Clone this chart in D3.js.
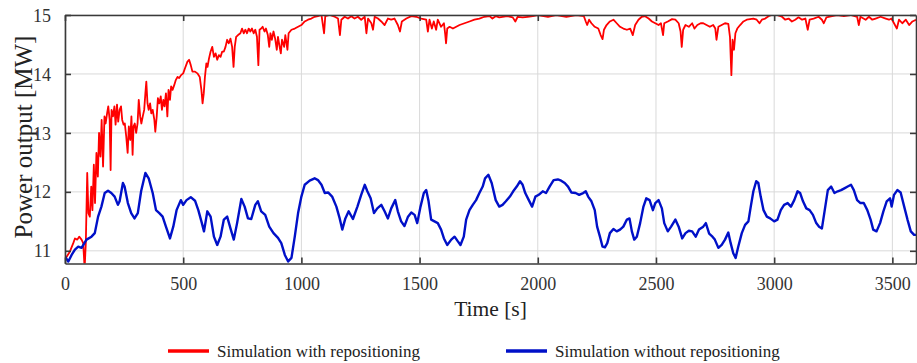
<!DOCTYPE html>
<html>
<head>
<meta charset="utf-8">
<script src="https://cdn.jsdelivr.net/npm/d3@7"></script>
<style>
  body { margin: 0; background: #fff; }
  svg { display: block; }
  .tick text { font-family: "Liberation Serif", serif; }
</style>
</head>
<body>
<svg id="chart"></svg>
<script>
// --- data ---
const xTicks = [0, 500, 1000, 1500, 2000, 2500, 3000, 3500];
const yTicks = [11, 12, 13, 14, 15];
const seriesNames = ['Simulation with repositioning', 'Simulation without repositioning'];

// with repositioning (red)
const tRed = [0,7,21,35,42,52,60,70,77,83,88,94,99,105,111,116,122,127,133,139,144,150,155,161,167,172,178,183,189,193,197,203,209,214,220,225,231,237,242,248,253,259,265,270,276,281,286,290,295,301,307,312,318,323,329,335,340,344,349,354,360,365,371,378,382,388,393,399,405,410,416,421,427,433,438,444,449,455,462,469,476,483,491,500,508,518,525,532,539,550,560,570,577,582,587,592,598,603,609,616,623,630,637,644,651,658,665,672,679,686,693,700,707,713,718,724,732,742,749,756,763,770,777,784,791,798,805,812,818,823,830,836,844,850,858,864,869,875,882,889,896,901,908,913,918,927,932,941,946,958,972,986,1000,1014,1028,1042,1056,1070,1085,1096,1101,1120,1141,1155,1163,1169,1183,1197,1211,1225,1239,1253,1268,1275,1282,1296,1303,1310,1324,1338,1352,1366,1380,1394,1408,1417,1425,1444,1465,1486,1507,1528,1535,1542,1552,1560,1570,1577,1591,1603,1608,1612,1617,1627,1641,1655,1669,1690,1711,1732,1753,1774,1796,1808,1822,1837,1851,1872,1894,1905,1915,1936,1957,1979,2000,2043,2078,2121,2163,2195,2203,2209,2217,2227,2241,2256,2266,2274,2280,2291,2305,2320,2334,2348,2362,2377,2391,2402,2412,2426,2440,2454,2469,2483,2497,2511,2521,2530,2535,2550,2568,2582,2596,2604,2609,2615,2625,2639,2653,2663,2675,2689,2700,2714,2728,2742,2751,2756,2764,2778,2792,2806,2813,2819,2824,2830,2836,2844,2856,2870,2884,2898,2912,2926,2938,2948,2962,2976,2990,3011,3033,3047,3061,3075,3089,3103,3118,3132,3142,3150,3167,3188,3202,3210,3221,3245,3266,3295,3323,3351,3358,3365,3387,3401,3415,3429,3450,3472,3486,3496,3507,3519,3528,3542,3557,3571,3585,3600];
const pRed = [10.88,10.90,10.99,11.13,11.21,11.19,11.24,11.19,11.13,10.70,11.13,12.32,11.64,11.58,12.09,11.69,12.46,11.81,12.66,12.26,13.00,12.60,13.22,12.43,13.28,13.16,13.33,13.45,13.22,12.37,13.39,13.28,13.45,13.14,13.48,13.19,13.39,13.45,13.22,13.14,13.16,12.94,12.66,13.11,12.88,13.28,12.63,13.11,13.16,13.00,13.16,13.56,13.28,13.16,13.28,13.39,13.67,13.87,13.50,13.39,13.50,13.33,13.39,13.22,13.02,13.28,13.59,13.50,13.62,13.39,13.56,13.45,13.67,13.28,13.73,13.56,13.79,13.73,13.81,13.90,13.95,13.93,13.98,14.01,14.10,14.21,14.24,14.15,14.04,14.04,14.01,13.95,13.73,13.50,13.67,13.95,14.18,14.12,14.26,14.38,14.46,14.29,14.35,14.24,14.32,14.29,14.38,14.38,14.46,14.58,14.52,14.60,14.46,14.12,14.46,14.63,14.66,14.69,14.77,14.69,14.75,14.69,14.77,14.72,14.77,14.69,14.75,14.63,14.15,14.75,14.77,14.80,14.72,14.77,14.66,14.46,14.69,14.58,14.72,14.60,14.41,14.63,14.46,14.35,14.58,14.46,14.66,14.41,14.69,14.75,14.77,14.80,14.83,14.89,14.92,14.94,14.97,14.98,15.00,14.69,14.98,15.00,14.97,14.94,14.66,14.92,14.97,14.94,14.98,14.94,14.97,14.92,14.97,14.69,14.94,14.86,14.75,14.97,14.94,14.89,14.83,14.94,14.92,14.94,14.83,14.72,14.89,14.94,14.98,14.97,14.94,14.92,14.72,14.92,14.77,14.89,14.75,14.92,14.80,14.86,14.69,14.52,14.77,14.80,14.77,14.80,14.83,14.86,14.89,14.92,14.94,14.97,14.98,14.94,14.98,14.96,14.97,14.98,14.96,14.89,14.97,14.96,14.97,14.98,15.00,14.97,15.00,14.97,15.00,14.98,14.89,14.83,14.92,14.86,14.80,14.77,14.66,14.59,14.75,14.83,14.89,14.92,14.86,14.80,14.77,14.75,14.77,14.66,14.83,14.92,14.97,14.98,14.94,14.89,14.86,14.83,14.86,14.66,14.86,14.89,14.93,14.92,14.86,14.72,14.46,14.75,14.83,14.80,14.86,14.77,14.83,14.86,14.86,14.83,14.80,14.83,14.77,14.58,14.80,14.83,14.86,14.85,14.63,13.98,14.58,14.41,14.69,14.77,14.83,14.89,14.92,14.93,14.94,14.92,14.86,14.92,14.94,14.98,15.00,15.00,14.97,14.92,14.94,14.89,14.92,14.96,14.92,14.94,14.75,14.92,14.94,14.97,14.92,14.86,14.96,14.98,15.00,14.98,15.00,14.97,14.83,14.97,14.92,14.97,14.92,14.94,14.97,14.94,14.92,14.94,14.86,14.77,14.92,14.86,14.92,14.83,14.89,14.92];

// without repositioning (blue)
const tBlue = [0,14,28,42,56,70,91,112,126,140,154,168,182,196,210,224,231,245,252,266,280,294,308,322,340,354,371,385,399,413,427,444,458,472,490,500,514,532,550,564,579,588,602,616,630,644,658,672,686,700,714,728,746,760,774,788,805,816,830,847,864,882,901,915,930,944,958,972,986,1000,1014,1035,1056,1070,1085,1099,1113,1130,1148,1162,1173,1186,1200,1218,1237,1253,1268,1279,1293,1307,1321,1338,1352,1366,1380,1397,1408,1422,1436,1451,1465,1479,1490,1504,1518,1528,1538,1549,1563,1577,1591,1603,1617,1634,1648,1662,1673,1687,1697,1711,1725,1739,1753,1767,1777,1791,1805,1822,1837,1851,1865,1882,1896,1911,1925,1936,1947,1962,1976,1990,2004,2021,2035,2050,2067,2085,2099,2114,2128,2142,2160,2175,2192,2203,2213,2227,2241,2251,2263,2274,2284,2294,2305,2320,2334,2348,2362,2377,2388,2398,2408,2419,2433,2447,2459,2473,2487,2497,2511,2525,2535,2550,2564,2582,2596,2611,2625,2639,2653,2668,2682,2700,2711,2725,2739,2749,2764,2778,2792,2806,2816,2827,2837,2848,2863,2877,2891,2901,2912,2924,2933,2943,2955,2969,2983,3000,3014,3028,3042,3057,3071,3085,3099,3110,3122,3136,3150,3164,3178,3190,3202,3212,3227,3241,3255,3269,3283,3297,3311,3325,3337,3351,3365,3379,3394,3408,3419,3433,3448,3462,3476,3490,3497,3507,3521,3535,3550,3564,3578,3592,3600];
const pBlue = [10.90,10.82,10.93,11.02,11.07,11.05,11.19,11.24,11.30,11.58,11.75,11.98,12.02,11.98,11.92,11.78,11.84,12.15,12.09,11.81,11.64,11.55,11.64,12.01,12.32,12.23,11.98,11.69,11.64,11.58,11.41,11.21,11.41,11.69,11.86,11.78,11.86,11.91,11.85,11.69,11.47,11.33,11.67,11.58,11.24,11.10,11.24,11.53,11.58,11.38,11.19,11.47,11.88,11.75,11.55,11.54,11.78,11.84,11.67,11.61,11.41,11.30,11.22,11.13,10.93,10.82,10.88,11.24,11.64,11.92,12.12,12.19,12.23,12.20,12.12,11.98,11.99,11.92,11.75,11.55,11.36,11.55,11.67,11.54,11.75,11.95,12.12,12.01,11.89,11.64,11.72,11.78,11.67,11.55,11.72,11.86,11.67,11.50,11.42,11.58,11.65,11.61,11.47,11.75,11.98,12.03,11.84,11.53,11.50,11.47,11.36,11.21,11.10,11.19,11.24,11.16,11.10,11.24,11.53,11.69,11.78,11.86,11.98,12.09,12.23,12.29,12.15,11.86,11.75,11.78,11.84,11.92,12.01,12.09,12.18,12.12,11.98,11.86,11.75,11.92,11.95,12.01,11.98,12.09,12.20,12.21,12.19,12.15,12.09,11.99,11.98,11.95,11.98,12.01,11.92,11.84,11.69,11.41,11.24,11.07,11.06,11.13,11.30,11.37,11.33,11.36,11.41,11.53,11.55,11.33,11.19,11.24,11.47,11.75,11.89,11.86,11.69,11.81,11.86,11.72,11.47,11.33,11.41,11.53,11.41,11.21,11.30,11.34,11.33,11.24,11.36,11.41,11.47,11.29,11.24,11.19,11.05,11.10,11.19,11.31,11.13,10.96,10.88,11.07,11.30,11.44,11.50,11.75,12.01,12.18,12.15,11.92,11.69,11.58,11.55,11.50,11.53,11.69,11.78,11.81,11.75,11.86,12.01,11.98,11.84,11.72,11.69,11.61,11.47,11.41,11.38,11.64,12.03,12.09,11.98,12.01,12.03,12.06,12.09,12.12,12.03,11.86,11.81,11.81,11.69,11.53,11.36,11.33,11.47,11.67,11.84,11.89,11.75,11.95,12.03,11.99,11.75,11.53,11.33,11.27,11.27];

// --- layout ---
const W = 917, H = 363;
const box = {left: 65, right: 916, top: 15, bottom: 263.5};

const svg = d3.select('#chart').attr('width', W).attr('height', H);

const x = d3.scaleLinear().domain([0, 3600]).range([box.left, box.right]);
const y = d3.scaleLinear().domain([10.785, 15]).range([box.bottom, box.top]);

//grid
svg.append('g')
  .selectAll('line.vg')
  .data(xTicks)
  .join('line')
  .attr('x1', d => x(d)).attr('x2', d => x(d))
  .attr('y1', box.top).attr('y2', box.bottom)
  .attr('stroke', '#d9d9d9').attr('stroke-width', 1);

svg.append('g')
  .selectAll('line.hg')
  .data(yTicks)
  .join('line')
  .attr('x1', box.left).attr('x2', box.right)
  .attr('y1', d => y(d)).attr('y2', d => y(d))
  .attr('stroke', '#d9d9d9').attr('stroke-width', 1);

svg.append('clipPath').attr('id', 'plotclip')
  .append('rect')
  .attr('x', box.left).attr('y', box.top)
  .attr('width', box.right - box.left).attr('height', box.bottom - box.top);

const line = d3.line().x(d => x(d[0])).y(d => y(d[1]));

const plot = svg.append('g').attr('clip-path', 'url(#plotclip)');

plot.append('path')
  .datum(d3.zip(tRed, pRed))
  .attr('d', line)
  .attr('fill', 'none')
  .attr('stroke', '#ff0000')
  .attr('stroke-width', 1.8)
  .attr('stroke-linejoin', 'round');

plot.append('path')
  .datum(d3.zip(tBlue, pBlue))
  .attr('d', line)
  .attr('fill', 'none')
  .attr('stroke', '#0010c8')
  .attr('stroke-width', 2.4)
  .attr('stroke-linejoin', 'round');

//axes: ticks inward on all four sides
const axisColor = '#3a3a3a';
const fmt = d3.format('d');

const gB = svg.append('g').attr('transform', 'translate(0,' + box.bottom + ')')
  .call(d3.axisBottom(x).tickValues(xTicks).tickFormat(fmt).tickSizeInner(-6).tickSizeOuter(0).tickPadding(14));
const gT = svg.append('g').attr('transform', 'translate(0,' + box.top + ')')
  .call(d3.axisTop(x).tickValues(xTicks).tickFormat('').tickSizeInner(-6).tickSizeOuter(0));
const gL = svg.append('g').attr('transform', 'translate(' + box.left + ',0)')
  .call(d3.axisLeft(y).tickValues(yTicks).tickFormat(fmt).tickSizeInner(-6).tickSizeOuter(0).tickPadding(14));
const gR = svg.append('g').attr('transform', 'translate(' + box.right + ',0)')
  .call(d3.axisRight(y).tickValues(yTicks).tickFormat('').tickSizeInner(-6).tickSizeOuter(0));

[gB, gT, gL, gR].forEach(g => {
  g.select('.domain').attr('stroke', axisColor).attr('stroke-width', 1.6);
  g.selectAll('.tick line').attr('stroke', axisColor).attr('stroke-width', 1.6);
  g.selectAll('.tick text').attr('fill', '#333').style('font-size', '18px');
});
gL.selectAll('.tick text').attr('dy', '0.34em');

//axis titles
svg.append('text')
  .attr('x', (box.left + box.right) / 2 + 0).attr('y', 316)
  .attr('text-anchor', 'middle')
  .style('font-family', '"Liberation Serif", serif').style('font-size', '21.5px').attr('fill', '#222')
  .text('Time [s]');

svg.append('text')
  .attr('transform', 'translate(32,137)rotate(-90)')
  .attr('text-anchor', 'middle')
  .style('font-family', '"Liberation Serif", serif').style('font-size', '25px').attr('fill', '#222')
  .text('Power output [MW]');

//legend
const legend = [
  {name: seriesNames[0], color: '#ff0000', x0: 168},
  {name: seriesNames[1], color: '#0010c8', x0: 506}
];
const lg = svg.append('g').selectAll('g').data(legend).join('g');
lg.append('line')
  .attr('x1', d => d.x0).attr('x2', d => d.x0 + 41)
  .attr('y1', 351).attr('y2', 351)
  .attr('stroke', d => d.color).attr('stroke-width', 3.5);
lg.append('text')
  .attr('x', d => d.x0 + 49).attr('y', 357)
  .style('font-family', '"Liberation Serif", serif').style('font-size', '17px').attr('fill', '#222')
  .text(d => d.name);
</script>
</body>
</html>
